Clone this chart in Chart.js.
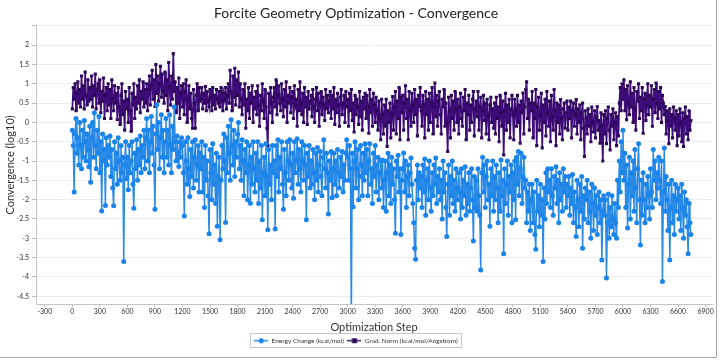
<!DOCTYPE html>
<html>
<head>
<meta charset="utf-8">
<script src="https://cdn.jsdelivr.net/npm/chart.js@4/dist/chart.umd.min.js"></script>
<style>
html, body { margin: 0; padding: 0; background: #fff; }
#wrap { width: 720px; height: 360px; position: relative; }
</style>
</head>
<body>
<div id="wrap"><canvas id="c" width="720" height="360"></canvas></div>
<script>
// ---------------- data ----------------
const chartTitle = 'Forcite Geometry Optimization - Convergence';
const xAxisTitle = 'Optimization Step';
const yAxisTitle = 'Convergence (log10)';
const seriesNames = ['Energy Change (kcal/mol)', 'Grad. Norm (kcal/mol/Angstrom)'];
const sampleEvery = 10; // optimization steps between the sampled points below

// log10 energy change, one value per sampled step (0, 10, 20, ...)
const energyChange = [
  -0.2, -0.6, -1.8, -0.3, 0.1, -0.8, -0.4, -1.1, 0.0, -0.6, -1.2, -0.2, -0.9, 0.05, -0.5, -1.0, -0.3, -0.7, -1.15, -0.1,
  -1.55, -0.4, 0.0, -0.9, 0.25, -0.6, -1.2, -0.2, -0.8, 0.15, -1.3, -0.5, -2.29, -0.3, -1.0, -0.7, -2.15, -0.4, -1.1, -0.6,
  -0.9, -0.35, -1.4, -0.7, -1.7, -2.16, -0.5, -1.2, -0.8, -1.6, -0.4, -1.0, -1.5, -0.6, -1.3, -0.9, -3.6, -1.1, -0.5, -1.45,
  -0.9, -1.74, -0.6, -1.3, -1.0, -0.5, -1.6, -2.22, -0.8, -1.2, -0.45, -1.5, -0.7, -1.1, -0.35, -1.3, -0.6, -0.9, -0.2, -1.2,
  -0.4, 0.1, -1.0, -0.2, -1.3, -0.5, 0.15, -0.8, -0.1, -1.1, -2.25, -0.3, 0.45, -0.7, 0.0, -1.2, -0.4, 0.2, -0.9, -0.2,
  -1.3, -0.5, 0.1, -0.9, -0.2, -1.1, 0.2, -0.6, -1.3, -0.1, -0.7, 0.4, -0.5, -1.0, -0.35, -0.8, -1.14, -0.5, -0.9, -0.4,
  -0.6, -1.3, -2.42, -0.5, -1.0, -1.6, -0.4, -1.2, -1.92, -0.7, -1.4, -0.5, -1.7, -0.9, -0.45, -1.5, -1.1, -0.6, -1.8, -0.8,
  -1.2, -0.5, -1.8, -0.9, -2.2, -0.6, -1.5, -1.0, -1.9, -2.88, -0.7, -1.3, -2.0, -0.55, -1.6, -1.1, -2.1, -0.8, -2.69, -1.4,
  -0.9, -3.04, -1.5, -0.6, -1.2, -0.3, -1.0, -2.59, -0.4, -1.3, -0.1, -0.8, -1.5, 0.07, -0.6, -1.1, -0.2, -1.4, -0.5, -0.9,
  -0.3, 0.0, -1.2, -0.6, -1.5, -0.45, -1.0, -1.9, -0.7, -1.3, -0.5, -2.0, -1.1, -0.6, -2.09, -0.9, -1.6, -0.5, -1.2, -1.8,
  -0.8, -1.5, -0.5, -2.1, -1.0, -1.7, -0.6, -2.52, -1.3, -0.9, -1.9, -0.55, -1.4, -2.78, -0.7, -1.6, -1.1, -2.0, -0.6, -1.3,
  -1.0, -2.76, -0.6, -1.4, -0.45, -1.8, -0.9, -1.2, -0.5, -1.6, -2.25, -0.7, -1.3, -1.9, -0.5, -1.0, -1.5, -0.45, -1.1, -1.7,
  -0.8, -1.96, -0.5, -1.3, -1.0, -0.42, -1.6, -0.7, -1.2, -1.8, -0.5, -1.0, -1.5, -0.6, -1.1, -2.52, -0.8, -1.4, -0.6, -1.7,
  -1.0, -1.6, -0.7, -1.3, -2.0, -0.8, -1.5, -0.65, -1.8, -1.1, -0.75, -1.4, -1.9, -0.9, -0.45, -1.2, -1.7, -0.8, -1.3, -2.37,
  -1.0, -1.5, -0.75, -1.95, -1.2, -0.8, -1.6, -1.0, -1.9, -0.7, -1.3, -1.7, -0.9, -1.4, -0.75, -1.8, -1.1, -1.5, -0.8, -0.45,
  -0.9, -1.5, -0.6, -1.2, -5.2, -0.8, -2.18, -1.0, -0.5, -1.7, -1.2, -0.7, -2.0, -1.4, -0.6, -1.1, -1.9, -0.8, -1.5, -0.55,
  -1.3, -0.7, -1.9, -1.0, -0.55, -1.6, -1.2, -2.1, -0.8, -1.4, -0.6, -1.8, -1.1, -0.9, -2.0, -1.3, -1.0, -1.7, -0.97, -2.2,
  -1.5, -1.0, -2.3, -1.3, -0.8, -1.9, -1.1, -2.1, -0.9, -1.6, -1.2, -2.0, -2.87, -1.0, -1.4, -0.85, -1.8, -1.2, -2.9, -1.5,
  -1.2, -0.79, -1.8, -1.0, -2.2, -1.4, -1.1, -1.9, -1.3, -0.92, -1.6, -2.1, -2.6, -3.26, -3.54, -1.5, -1.1, -2.0, -1.3, -1.7,
  -1.4, -2.2, -1.1, -1.8, -0.95, -2.4, -1.5, -1.2, -2.0, -1.0, -1.7, -2.3, -1.3, -1.9, -1.1, -1.6, -0.92, -2.1, -1.4, -1.8,
  -1.2, -2.0, -1.5, -2.5, -1.0, -1.8, -1.3, -2.2, -2.95, -1.6, -1.1, -2.4, -1.4, -1.9, -1.0, -2.1, -1.5, -2.3, -1.2, -1.7,
  -2.0, -1.3, -1.8, -2.5, -1.2, -2.2, -1.5, -1.9, -1.15, -2.4, -1.6, -2.1, -1.3, -2.3, -1.7, -1.2, -2.0, -3.07, -1.4, -2.2,
  -1.5, -2.3, -1.2, -1.9, -2.4, -3.82, -1.3, -0.9, -1.8, -1.1, -2.2, -1.4, -1.0, -2.0, -1.6, -2.69, -1.2, -1.9, -1.0, -2.3,
  -1.4, -2.0, -1.1, -1.7, -2.6, -1.3, -2.3, -0.97, -1.9, -1.5, -3.4, -1.2, -2.1, -1.6, -1.0, -2.4, -1.4, -1.8, -1.1, -2.6,
  -1.3, -2.0, -1.0, -2.52, -0.9, -1.6, -0.75, -1.9, -1.2, -0.8, -2.1, -1.4, -0.9, -1.7, -1.5, -2.6, -1.8, -2.3, -1.6, -2.8,
  -2.0, -1.6, -2.6, -1.8, -2.9, -3.28, -1.5, -2.3, -1.9, -2.7, -1.6, -2.4, -2.0, -3.6, -1.7, -2.5, -1.3, -2.1, -1.2, -1.8,
  -1.5, -2.2, -1.2, -1.9, -2.4, -1.4, -1.7, -1.15, -2.1, -1.5, -2.6, -1.3, -2.0, -1.6, -2.3, -1.2, -1.8, -1.4, -2.2, -1.6,
  -1.9, -1.4, -2.4, -1.7, -2.1, -1.35, -2.6, -1.8, -2.2, -2.95, -1.5, -2.0, -2.7, -1.6, -2.3, -1.4, -3.26, -1.9, -2.5, -1.7,
  -2.0, -1.5, -2.6, -1.8, -2.3, -3.0, -1.6, -2.1, -2.8, -1.7, -2.4, -1.9, -2.9, -2.2, -1.8, -2.6, -2.0, -3.56, -2.3, -1.9,
  -2.4, -2.0, -4.03, -2.6, -1.85, -3.0, -2.2, -2.7, -1.9, -2.5, -2.9, -2.1, -2.6, -3.0, -1.5, -2.2, -1.0, -1.8, -0.5, -1.3,
  -0.2, -1.5, -0.8, -2.2, -1.1, -2.73, -1.6, -0.9, -2.5, -1.3, -1.9, -1.0, -2.3, -0.7, -1.7, -2.6, -1.2, -0.55, -2.0, -3.17,
  -1.5, -2.4, -1.3, -2.0, -2.6, -1.6, -2.2, -1.4, -1.9, -2.5, -1.2, -1.8, -2.2, -0.7, -1.5, -1.0, -2.0, -1.3, -1.7, -0.9,
  -1.5, -2.1, -1.0, -4.12, -1.8, -0.66, -2.3, -1.4, -2.0, -2.8, -1.6, -3.56, -2.2, -1.5, -2.6, -1.9, -2.9, -1.6, -2.3, -2.0,
  -1.7, -2.5, -1.9, -2.8, -1.6, -2.2, -3.0, -1.8, -2.4, -2.0, -2.7, -3.4, -2.1, -2.6, -2.9
];

// log10 gradient norm, same sampled steps
const gradNorm = [
  0.35, 0.9, 0.6, 1.0, 0.3, 0.75, 1.05, 0.5, 0.85, 0.4, 1.2, 0.6, 0.95, 0.35, 1.3, 0.7, 0.45, 1.1, 0.55, 0.9,
  0.6, 1.2, 0.4, 0.95, 0.7, 1.25, 0.35, 0.85, 1.0, 0.5, 1.1, 0.25, 0.8, 0.55, 1.15, 0.1, 0.7, 0.9, 0.3, 1.0,
  0.45, 0.85, 0.1, 1.1, 0.6, 0.3, 0.95, 0.5, 0.75, 0.07, 0.9, 0.4, -0.05, 0.7, 1.0, 0.2, 0.55, -0.2, 0.8, 0.35,
  0.6, 0.0, 0.9, 0.3, -0.23, 0.75, 0.45, 1.0, 0.1, 0.65, 0.35, 0.95, 0.5, 1.1, 0.25, 0.8, 0.6, 1.05, 0.4, 0.85,
  0.5, 1.0, 0.3, 0.85, 1.2, 0.45, 0.95, 1.35, 0.6, 1.1, 0.41, 1.5, 0.75, 1.2, 0.55, 1.0, 1.45, 0.65, 1.25, 0.8,
  0.5, 1.3, 0.7, 1.1, 0.3, 1.55, 0.9, 0.45, 1.2, 0.6, 1.78, 0.8, 1.05, 0.25, 0.9, 0.5, 1.15, 0.1, 0.75, 0.95,
  0.4, 1.0, 0.2, 0.8, 1.1, 0.0, 0.6, 0.95, 0.35, 0.75, 0.1, -0.15, 0.85, 0.5, -0.15, 0.7, 1.0, 0.3, 0.9, 0.55,
  0.6, 0.9, 0.35, 0.75, 0.5, 0.93, 0.3, 0.8, 0.55, 0.4, 0.85, 0.65, 0.3, 0.9, 0.45, 0.7, 0.35, 0.85, 0.6, 0.5,
  0.8, 0.4, 0.9, 0.55, 0.3, 0.75, 0.6, 0.9, 0.35, 0.7, 1.0, 0.5, 1.35, 0.8, 0.3, 1.2, 0.65, 1.4, 0.45, 1.1,
  0.7, 1.3, 0.4, 1.0, 0.6, 0.2, 0.85, 0.45, 1.0, -0.15, 0.6, 0.3, 0.9, 0.1, 0.75, 0.5, 0.95, 0.0, 0.65, 0.35,
  0.8, 0.2, 0.95, 0.45, -0.1, 0.7, 0.3, 1.0, 0.55, 0.1, 0.85, 0.4, -0.15, -0.6, 0.75, 0.25, 0.9, 0.5, 0.0, 0.65,
  0.9, 0.4, 1.1, 0.2, 0.7, 0.95, 0.5, 0.3, 1.0, 0.6, 0.15, 0.85, 0.4, 1.05, 0.0, 0.7, 0.5, 0.9, 0.25, 0.65,
  0.8, 0.1, 0.95, 0.45, 0.6, -0.1, 0.85, 0.3, 1.05, 0.5, 0.2, 0.75, 0.0, 0.9, 0.4, 0.65, -0.05, 0.8, 0.35, 0.55,
  0.7, 0.15, 0.85, 0.4, 0.0, 0.6, 0.9, 0.3, 0.75, -0.1, 0.5, 0.8, 0.2, 0.65, 0.45, 0.05, 0.85, 0.35, 0.7, 0.25,
  0.55, 0.8, 0.1, 0.7, 0.35, 0.9, -0.05, 0.6, 0.25, 0.75, 0.45, -0.1, 0.65, 0.85, 0.2, 0.5, 0.7, 0.0, 0.8, 0.4,
  0.6, -0.1, 0.75, 0.3, 0.85, 0.05, 0.5, -0.25, 0.7, 0.2, 0.6, 0.4, -0.05, 0.8, 0.15, 0.55, -0.2, 0.65, 0.35, 0.75,
  0.1, 0.7, 0.4, -0.28, 0.85, 0.25, 0.6, -0.1, 0.75, 0.45, 0.0, 0.65, 0.3, -0.2, 0.55, 0.1, -0.45, 0.6, 0.2, -0.3,
  0.45, -0.1, 0.6, -0.62, 0.3, 0.0, 0.5, -0.4, 0.2, 0.67, -0.2, 0.4, 0.8, -0.3, 0.55, 0.1, 0.9, -0.45, 0.65, 0.25,
  0.7, -0.2, 0.5, 0.95, 0.1, 0.6, -0.45, 0.8, 0.3, -0.1, 0.75, 0.45, 0.0, 0.85, 0.2, 0.6, -0.35, 0.7, 0.4, 0.9,
  0.3, -0.1, 0.7, 0.45, -0.4, 0.8, 0.2, 0.6, -0.2, 0.75, 0.0, 0.5, 0.9, -0.3, 0.4, 1.02, 0.15, 0.7, -0.1, 0.55,
  0.8, 0.2, -0.3, 0.6, 0.4, 0.85, -0.1, 0.5, 0.0, -0.75, 0.65, 0.3, -0.4, 0.7, 0.1, 0.55, -0.2, 0.8, 0.35, 0.0,
  0.6, -0.3, 0.4, 0.75, 0.1, -0.1, 0.65, 0.3, 0.85, -0.45, 0.5, 0.2, 0.7, -0.2, 0.45, 0.0, 0.6, 0.8, -0.35, 0.35,
  0.55, 0.15, 0.8, -0.2, 0.4, 0.65, -0.4, 0.3, 0.7, 0.05, 0.5, -0.3, 0.6, 0.2, -0.45, 0.45, 0.65, 0.0, 0.35, -0.15,
  0.5, -0.3, 0.65, 0.1, 0.4, -0.5, 0.7, 0.25, -0.1, 0.55, -0.84, 0.3, 0.75, -0.2, 0.45, 0.0, 0.6, -0.4, 0.35, 0.7,
  0.2, -0.45, 0.6, 0.3, -0.1, 0.7, 0.0, 0.45, -0.54, 0.55, 0.25, 0.76, -0.3, 0.4, 0.85, 1.05, 0.1, 0.6, -0.2, 0.5,
  0.3, 0.8, -0.4, 0.5, 0.1, 0.85, -0.6, 0.4, 0.65, -0.2, 0.2, 0.75, -0.66, 0.45, 0.0, 0.6, -0.35, 0.8, 0.25, -0.1,
  0.55, -0.5, 0.7, 0.15, -0.2, 0.85, 0.3, -0.6, 0.5, 0.0, 0.45, -0.3, 0.59, 0.1, -0.45, 0.35, 0.5, -0.15, 0.25, 0.55,
  -0.2, 0.4, 0.1, 0.55, -0.4, 0.3, 0.5, -0.1, 0.2, 0.59, -0.3, 0.35, 0.0, 0.45, -0.45, 0.25, 0.5, -0.15, -0.88, 0.3,
  0.1, -0.3, 0.35, -0.1, 0.2, -0.5, 0.4, 0.0, -0.25, 0.3, -0.4, 0.15, 0.41, -0.2, 0.05, -0.54, 0.25, -0.1, -1.0, 0.2,
  -0.3, 0.3, -0.55, 0.1, 0.4, -0.2, -0.71, 0.2, -0.1, 0.35, -0.45, 0.0, 0.25, -0.6, 0.15, -0.35, 0.5, 0.9, 0.3, 1.0,
  0.6, 1.1, 0.3, 0.85, 0.07, 0.95, 0.5, 0.2, 1.05, 0.4, 0.75, 0.0, 0.9, 0.35, -0.2, 0.8, 0.55, 1.0, 0.1, 0.65,
  0.3, 0.9, -0.28, 0.6, 0.75, 0.05, 0.45, 1.0, 0.2, 0.7, 0.4, 0.95, -0.1, 0.6, 0.85, 0.25, 1.02, 0.5, 0.1, 0.8,
  0.35, 0.9, 0.0, 0.7, 0.5, 0.2, 0.41, -0.3, 0.3, 0.05, -0.55, 0.35, -0.1, 0.2, -0.4, 0.4, 0.1, -0.2, 0.3, -0.6,
  0.2, -0.35, 0.35, 0.0, -0.5, 0.25, -0.62, 0.1, 0.4, -0.3, 0.15, -0.45, 0.3, -0.2, 0.05
];

// axis tick settings
const xTickStep = 300;
const yTickStep = 0.5;

// ---------------- chart ----------------
const steps = energyChange.map((_, i) => i * sampleEvery);
const toPoints = (arr) => arr.map((v, i) => ({ x: steps[i], y: v }));

const FONT = "Lato, 'Open Sans', sans-serif";
const BLUE = '#1a84ea';
const BLUE_LINE = '#2a8ae6';
const PURPLE = '#2c0757';
const PURPLE_LINE = '#3d0c78';

function legendMarker(color, shape) {
  const c = document.createElement('canvas');
  c.width = 14; c.height = 7;
  const g = c.getContext('2d');
  g.strokeStyle = color; g.lineWidth = 1.4;
  g.beginPath(); g.moveTo(0, 3.5); g.lineTo(14, 3.5); g.stroke();
  g.fillStyle = color;
  if (shape === 'circle') { g.beginPath(); g.arc(7, 3.5, 2.6, 0, Math.PI * 2); g.fill(); }
  else { g.fillRect(4.5, 1, 5, 5); }
  return c;
}
const markers = [legendMarker(BLUE, 'circle'), legendMarker(PURPLE, 'rect')];

const framePlugin = {
  id: 'frame',
  afterDraw(chart) {
    const g = chart.ctx;
    g.save();
    const lg = chart.legend;
    if (lg && lg.legendHitBoxes && lg.legendHitBoxes.length) {
      const hb = lg.legendHitBoxes;
      const l = Math.min(...hb.map(h => h.left)) - 4;
      const r = Math.max(...hb.map(h => h.left + h.width)) + 4;
      g.strokeStyle = '#c8c8c8'; g.lineWidth = 1;
      g.strokeRect(Math.round(l) + 0.5, Math.round(lg.top) - 0.5, Math.round(r - l), 14);
    }
    g.strokeStyle = '#a8a8a8'; g.lineWidth = 1;
    g.beginPath();
    g.moveTo(716.5, 0); g.lineTo(716.5, 357.5); g.lineTo(0, 357.5);
    g.stroke();
    g.restore();
  }
};

new Chart(document.getElementById('c'), {
  type: 'line',
  data: {
    datasets: [
      {
        label: seriesNames[0],
        data: toPoints(energyChange),
        borderColor: BLUE_LINE,
        backgroundColor: BLUE,
        pointBackgroundColor: BLUE,
        pointBorderColor: BLUE,
        borderWidth: 1.5,
        pointRadius: 2.5,
        pointBorderWidth: 0,
        pointStyle: 'circle',
        tension: 0
      },
      {
        label: seriesNames[1],
        data: toPoints(gradNorm),
        borderColor: PURPLE_LINE,
        backgroundColor: PURPLE,
        pointBackgroundColor: PURPLE,
        pointBorderColor: PURPLE,
        borderWidth: 1.7,
        pointRadius: 2.2,
        pointBorderWidth: 0,
        pointStyle: 'rect',
        tension: 0
      }
    ]
  },
  options: {
    responsive: false,
    animation: false,
    events: [],
    layout: { padding: { left: 0, right: 8, top: 0, bottom: 6 } },
    plugins: {
      title: {
        display: true,
        text: chartTitle,
        color: '#222',
        font: { family: FONT, size: 14, weight: 'normal' },
        padding: { top: 5, bottom: 4 }
      },
      legend: {
        position: 'bottom',
        labels: {
          usePointStyle: true,
          pointStyleWidth: 14,
          padding: 3.5,
          color: '#333',
          font: { family: FONT, size: 6.5 },
          generateLabels(chart) {
            const items = Chart.defaults.plugins.legend.labels.generateLabels(chart);
            items.forEach((it, i) => { it.pointStyle = markers[i]; });
            return items;
          }
        }
      },
      tooltip: { enabled: false }
    },
    scales: {
      x: {
        type: 'linear',
        min: -396,
        max: 6970,
        afterFit(s) { s.height = 30; },
        ticks: {
          stepSize: xTickStep,
          includeBounds: false,
          autoSkip: false,
          maxRotation: 0,
          padding: 1,
          color: '#333',
          font: { family: FONT, size: 7 },
          callback: (v) => String(v)
        },
        grid: { display: true, drawOnChartArea: false, tickLength: 3, tickColor: '#bbb' },
        border: { color: '#c4c4c4' },
        title: {
          display: true,
          text: xAxisTitle,
          color: '#333',
          font: { family: FONT, size: 11 },
          padding: { top: 1, bottom: 0 }
        }
      },
      y: {
        min: -4.7,
        max: 2.5,
        afterFit(s) { s.width = 36; },
        ticks: {
          stepSize: yTickStep,
          includeBounds: false,
          padding: 3,
          color: '#333',
          font: { family: FONT, size: 7 },
          callback: (v) => (Math.abs(v - 2.5) < 1e-9 ? '' : String(Math.round(v * 10) / 10))
        },
        grid: { color: '#ececec', tickLength: 4, tickColor: '#bbb' },
        border: { color: '#c4c4c4' },
        title: {
          display: true,
          text: yAxisTitle,
          color: '#333',
          font: { family: FONT, size: 11 },
          padding: { top: 4, bottom: 0 }
        }
      }
    }
  },
  plugins: [framePlugin]
});
</script>
</body>
</html>
